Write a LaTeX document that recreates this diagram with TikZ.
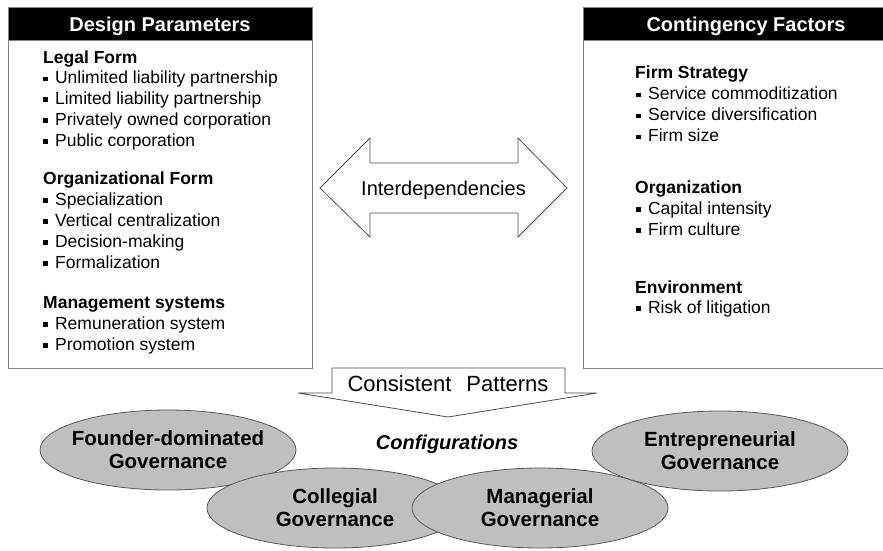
\documentclass[tikz,border=0pt]{standalone}
\usepackage{fontspec}
\setmainfont{Liberation Sans}
\usetikzlibrary{shapes.geometric}
\newcommand\bsq{\rule[0.12em]{0.28em}{0.28em}\hspace{0.4em}}
\begin{document}
\begin{tikzpicture}[x=1pt,y=-1pt,
  boxline/.style={draw=black!50, line width=0.9pt, inner sep=0pt, anchor=north west},
  hdr/.style={fill=black, draw=black!50, line width=0.9pt, inner sep=0pt, anchor=north west},
  hdrtext/.style={text=white, anchor=base, inner sep=0pt, font=\fontsize{20}{24}\selectfont\bfseries},
  grouphead/.style={anchor=base west, inner sep=0pt, font=\fontsize{17.5}{21}\selectfont\bfseries},
  listitem/.style={anchor=base west, inner sep=0pt, font=\fontsize{17.5}{21}\selectfont},
  bigarrow/.style={draw=black!70, line width=0.8pt, fill=white, line join=miter},
  ell/.style={ellipse, draw=black!65, line width=0.8pt, fill=black!25, minimum width=256pt, minimum height=80pt, inner sep=0pt},
  elltext/.style={align=center, inner sep=0pt, font=\fontsize{20.5}{23}\selectfont\bfseries}
]
\useasboundingbox (0,0) rectangle (883,550);
\clip (0,0) rectangle (883,550);
\fill[white] (0,0) rectangle (883,550);

% Left box
\node[boxline, minimum width=304pt, minimum height=361pt] (dpbox) at (8,7) {};
\node[hdr, minimum width=304pt, minimum height=33pt] (dphdr) at (8,7) {};
\node[hdrtext] (dpt) at (160,31.5) {Design Parameters};

\node[grouphead] (lg) at (43,63) {Legal Form};
\node[listitem] (lg1) at (43,83.5) {\bsq Unlimited liability partnership};
\node[listitem] (lg2) at (43,104.3) {\bsq Limited liability partnership};
\node[listitem] (lg3) at (43,125) {\bsq Privately owned corporation};
\node[listitem] (lg4) at (43,146) {\bsq Public corporation};

\node[grouphead] (of) at (43,184.5) {Organizational Form};
\node[listitem] (of1) at (43,205.3) {\bsq Specialization};
\node[listitem] (of2) at (43,226) {\bsq Vertical centralization};
\node[listitem] (of3) at (43,247) {\bsq Decision-making};
\node[listitem] (of4) at (43,268) {\bsq Formalization};

\node[grouphead] (ms) at (43,308) {Management systems};
\node[listitem] (ms1) at (43,329) {\bsq Remuneration system};
\node[listitem] (ms2) at (43,350) {\bsq Promotion system};

% Right box
\node[boxline, minimum width=326pt, minimum height=361pt] (cfbox) at (583,7) {};
\node[hdr, minimum width=326pt, minimum height=33pt] (cfhdr) at (583,7) {};
\node[hdrtext] (cft) at (746,31.5) {Contingency Factors};

\node[grouphead] (fs) at (635,78) {Firm Strategy};
\node[listitem] (fs1) at (636,99.5) {\bsq Service commoditization};
\node[listitem] (fs2) at (636,120.5) {\bsq Service diversification};
\node[listitem] (fs3) at (636,141.5) {\bsq Firm size};

\node[grouphead] (og) at (635,193) {Organization};
\node[listitem] (og1) at (636,214) {\bsq Capital intensity};
\node[listitem] (og2) at (636,235) {\bsq Firm culture};

\node[grouphead] (ev) at (635,293) {Environment};
\node[listitem] (ev1) at (636,313) {\bsq Risk of litigation};

% Double arrow
\draw[bigarrow] (320,188) -- (370,138) -- (370,163) -- (518,163) -- (518,138)
  -- (567,188) -- (518,237) -- (518,213) -- (370,213) -- (370,237) -- cycle;
\node[anchor=base, inner sep=0pt, font=\fontsize{20}{24}\selectfont] (inter) at (443.5,195) {Interdependencies};

% Down arrow
\draw[bigarrow] (332,368) -- (565,368) -- (565,393) -- (597,393) -- (448,417)
  -- (298,393) -- (332,393) -- cycle;
\node[anchor=base, inner sep=0pt, font=\fontsize{22}{26}\selectfont] (cons) at (448,391) {Consistent\hspace{15pt}Patterns};

\node[anchor=base, inner sep=0pt, font=\fontsize{20}{24}\selectfont\bfseries\itshape] (conf) at (447,449) {Configurations};

% Ellipses
\node[ell] (fd) at (168,450) {};
\node[ell] (cg) at (335,508) {};
\node[ell] (mg) at (540,508) {};
\node[ell] (en) at (720,451) {};
\node[elltext] (fdt) at (fd.center) {Founder-dominated\\Governance};
\node[elltext] (cgt) at (cg.center) {Collegial\\Governance};
\node[elltext] (mgt) at (mg.center) {Managerial\\Governance};
\node[elltext] (ent) at (en.center) {Entrepreneurial\\Governance};
\end{tikzpicture}
\end{document}
